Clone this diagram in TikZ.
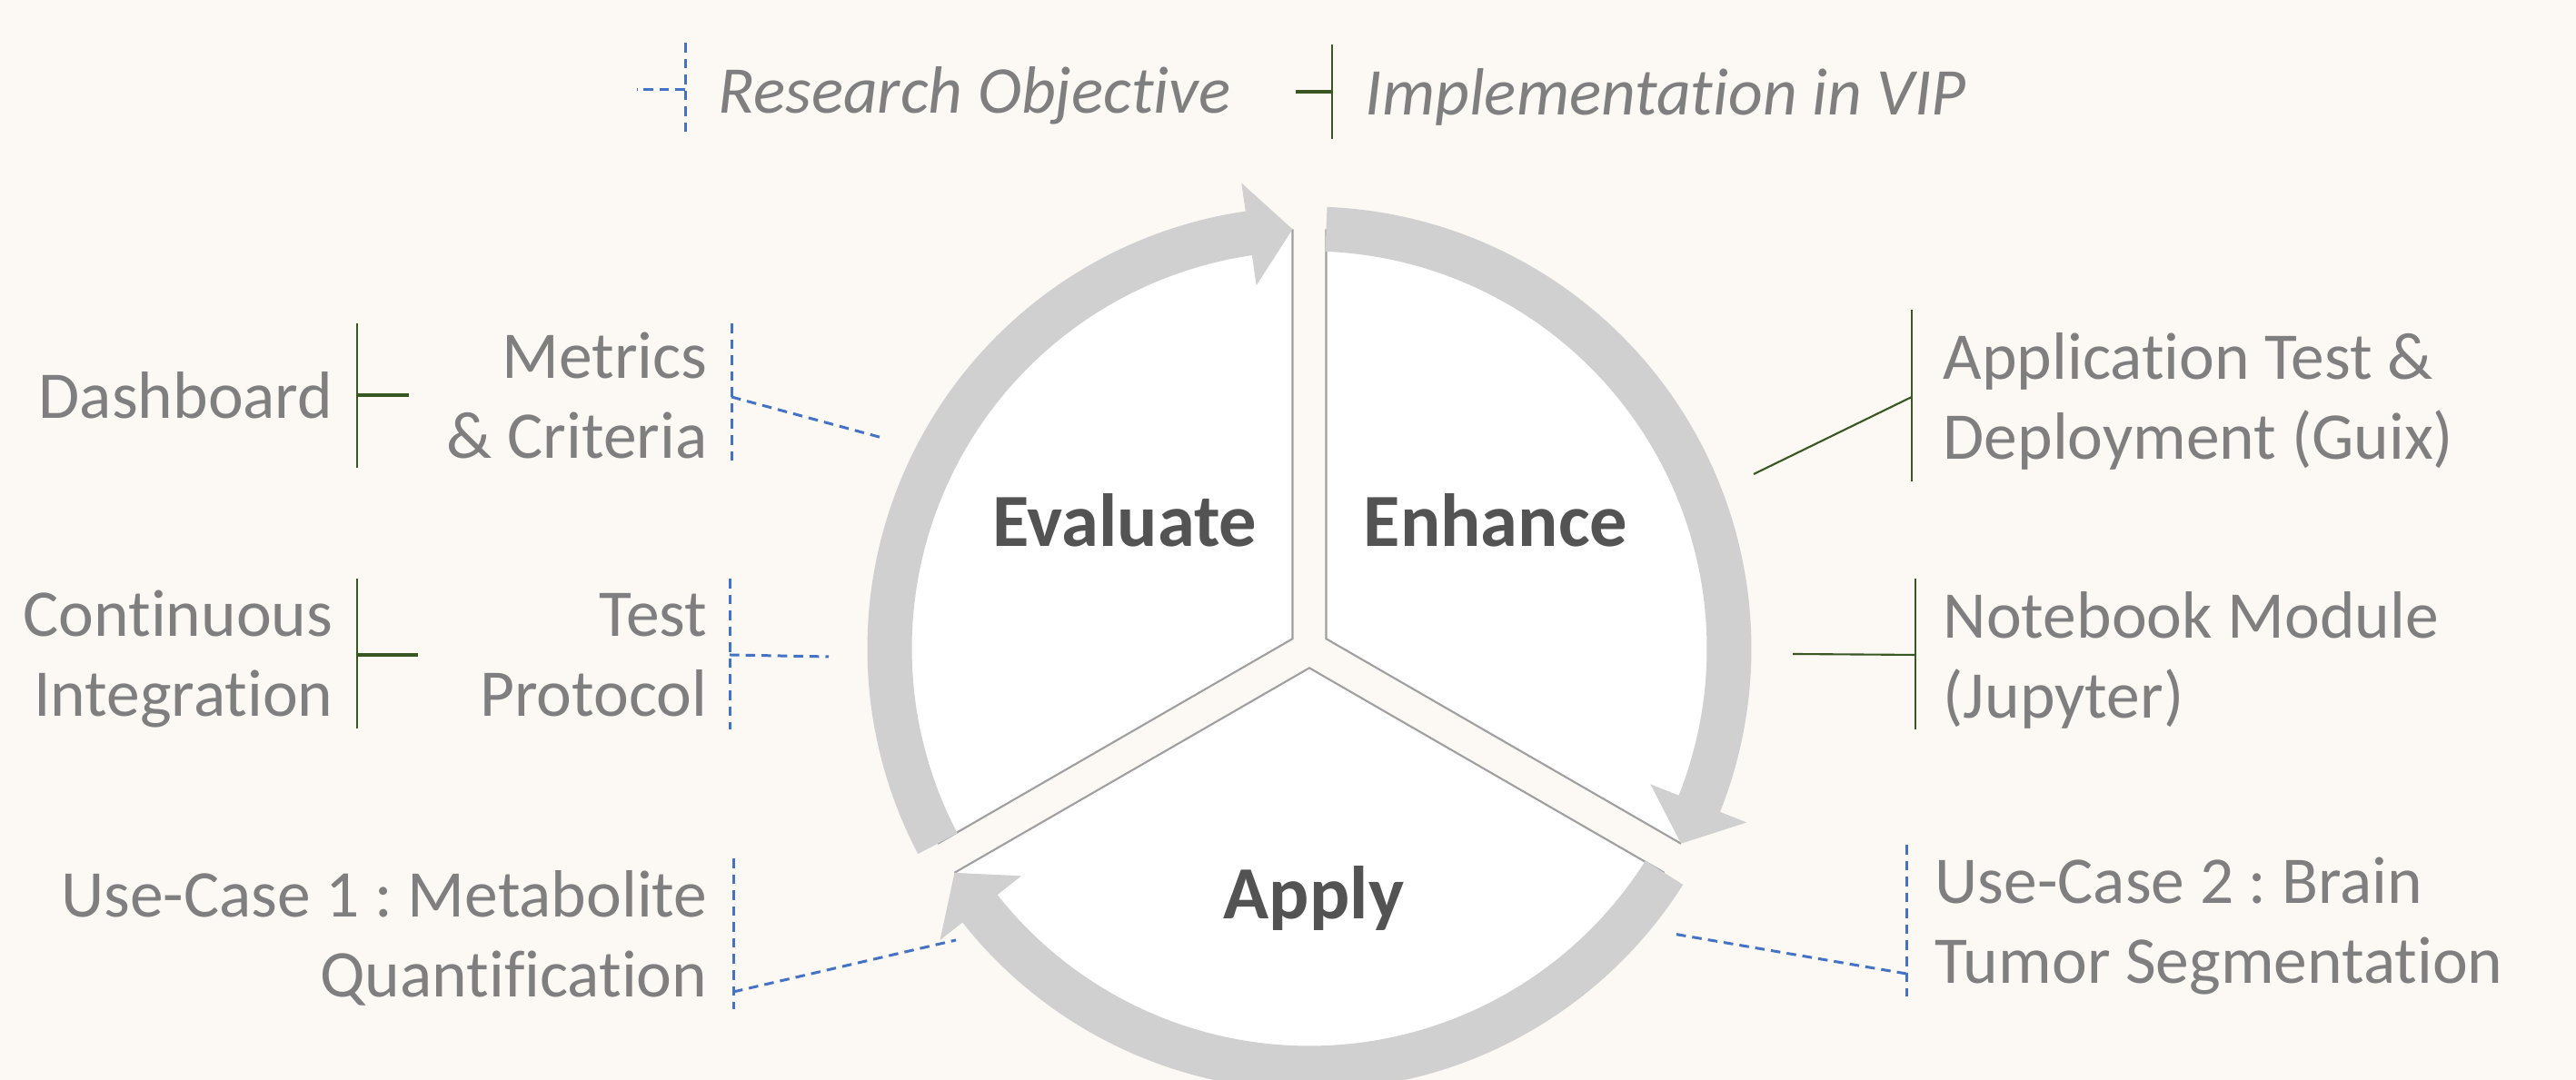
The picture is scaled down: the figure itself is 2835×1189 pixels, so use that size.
\documentclass[tikz,border=0pt]{standalone}
\usepackage{fontspec}
\setmainfont{Carlito}[Ligatures=NoCommon]
\frenchspacing
\definecolor{bgcol}{RGB}{252,248,244}
\definecolor{txtgray}{RGB}{127,127,127}
\definecolor{phasegray}{RGB}{83,83,83}
\definecolor{ringgray}{RGB}{208,208,208}
\definecolor{objblue}{RGB}{68,114,196}
\definecolor{implgreen}{RGB}{56,87,35}
\begin{document}
\begin{tikzpicture}[x=0.01cm,y=0.01cm,
  lbl/.style={text=txtgray,inner sep=0pt,font=\fontsize{20.9}{25.3}\selectfont},
  lblr/.style={lbl,align=right,anchor=base east},
  lbll/.style={lbl,align=left,anchor=base west},
  legend/.style={lbl,anchor=base west,font=\fontsize{20.9}{25.3}\selectfont\itshape},
  phase/.style={text=phasegray,inner sep=0pt,anchor=base,font=\fontsize{23.5}{28}\selectfont\bfseries},
  objline/.style={draw=objblue,line width=0.85pt,dash pattern=on 3pt off 2pt},
  implline/.style={draw=implgreen,line width=0.6pt},
  implstub/.style={draw=implgreen,line width=1pt},
  sector/.style={fill=white,draw=gray!75,line width=0.6pt},
  ringarrow/.style={fill=ringgray}]
% background
\fill[bgcol] (0,0) rectangle (2835,1189);
\useasboundingbox (0,0) rectangle (2835,1189);

% legend
\coordinate (objtop) at (754,1142);
\coordinate (objbot) at (754,1042);
\coordinate (objmid) at (754,1090);
\coordinate (objend) at (701,1090);
\draw[objline] (objtop) -- (objbot);
\draw[objline] (objmid) -- (objend);
\node[legend] (legobj) at (790,1064) {Research Objective};
\coordinate (impltop) at (1466,1140);
\coordinate (implbot) at (1466,1036);
\coordinate (implmid) at (1466,1088);
\coordinate (implend) at (1426,1088);
\draw[implline] (impltop) -- (implbot);
\draw[implstub] (implmid) -- (implend);
\node[legend] (legimpl) at (1502,1062) {Implementation in VIP};

% cycle centre
\begin{scope}[shift={(1441,475)}]
% white sectors
\filldraw[sector] (150:21.4) -- (92.3:461) arc[start angle=92.3,end angle=207.7,radius=461] -- cycle;
\filldraw[sector] (30:21.4) -- (-27.7:461) arc[start angle=-27.7,end angle=87.7,radius=461] -- cycle;
\filldraw[sector] (270:21.4) -- (212.3:461) arc[start angle=212.3,end angle=327.7,radius=461] -- cycle;

% arrows of the cycle
\fill[ringarrow] (207.7:486.5) arc[start angle=207.7,end angle=98.3,radius=486.5]
  -- (98.3:518) -- (92.3:462) -- (98.3:404)
  -- (98.3:437.5) arc[start angle=98.3,end angle=207.7,radius=437.5] -- cycle;
\fill[ringarrow] (87.7:486.5) arc[start angle=87.7,end angle=-21.7,radius=486.5]
  -- (-21.7:518) -- (-27.7:462) -- (-21.7:404)
  -- (-21.7:437.5) arc[start angle=-21.7,end angle=87.7,radius=437.5] -- cycle;
\fill[ringarrow] (-32.3:486.5) arc[start angle=-32.3,end angle=-141.7,radius=486.5]
  -- (-141.7:518) -- (-147.7:462) -- (-141.7:404)
  -- (-141.7:437.5) arc[start angle=-141.7,end angle=-32.3,radius=437.5] -- cycle;
\end{scope}

% phases
\node[phase] (evaluate) at (1238,587) {Evaluate};
\node[phase] (enhance) at (1646,587) {Enhance};
\node[phase] (apply) at (1446,177) {Apply};

% left side
\node[lblr] (dash) at (367,728) {Dashboard};
\coordinate (dashtop) at (393,833);
\coordinate (dashbot) at (393,674);
\coordinate (dashmid) at (393,754);
\coordinate (dashend) at (450,754);
\draw[implline] (dashtop) -- (dashbot);
\draw[implstub] (dashmid) -- (dashend);

\node[lblr] (metrics) at (779,684) {Metrics\\\& Criteria};
\coordinate (mettop) at (805,833);
\coordinate (metbot) at (805,676);
\coordinate (metmid) at (805,752);
\coordinate (metend) at (971,707);
\draw[objline] (mettop) -- (metbot);
\draw[objline] (metmid) -- (metend);

\node[lblr] (ci) at (367,400) {Continuous\\Integration};
\coordinate (citop) at (393,552);
\coordinate (cibot) at (393,387);
\coordinate (cimid) at (393,468);
\coordinate (ciend) at (460,468);
\draw[implline] (citop) -- (cibot);
\draw[implstub] (cimid) -- (ciend);

\node[lblr] (test) at (779,400) {Test\\Protocol};
\coordinate (testtop) at (803,552);
\coordinate (testbot) at (803,386);
\coordinate (testmid) at (803,468);
\coordinate (testend) at (912,466);
\draw[objline] (testtop) -- (testbot);
\draw[objline] (testmid) -- (testend);

\node[lblr] (uc1) at (779,91) {Use-Case 1 : Metabolite\\Quantification};
\coordinate (uc1top) at (807,244);
\coordinate (uc1bot) at (807,78);
\coordinate (uc1mid) at (807,97);
\coordinate (uc1end) at (1052,154);
\draw[objline] (uc1top) -- (uc1bot);
\draw[objline] (uc1mid) -- (uc1end);

% right side
\node[lbll] (guix) at (2138,683) {Application Test \&\\Deployment (Guix)};
\coordinate (guixtop) at (2104,848);
\coordinate (guixbot) at (2104,659);
\coordinate (guixmid) at (2104,752);
\coordinate (guixend) at (1930,667);
\draw[implline] (guixtop) -- (guixbot);
\draw[implline] (guixmid) -- (guixend);

\node[lbll] (jupyter) at (2138,398) {Notebook Module\\(Jupyter)};
\coordinate (juptop) at (2108,552);
\coordinate (jupbot) at (2108,386);
\coordinate (jupmid) at (2108,468);
\coordinate (jupend) at (1973,469);
\draw[implline] (juptop) -- (jupbot);
\draw[implline] (jupmid) -- (jupend);

\node[lbll] (uc2) at (2129,106) {Use-Case 2 : Brain\\Tumor Segmentation};
\coordinate (uc2top) at (2098,259);
\coordinate (uc2bot) at (2098,92);
\coordinate (uc2mid) at (2098,117);
\coordinate (uc2end) at (1841,161);
\draw[objline] (uc2top) -- (uc2bot);
\draw[objline] (uc2mid) -- (uc2end);
\end{tikzpicture}
\end{document}
